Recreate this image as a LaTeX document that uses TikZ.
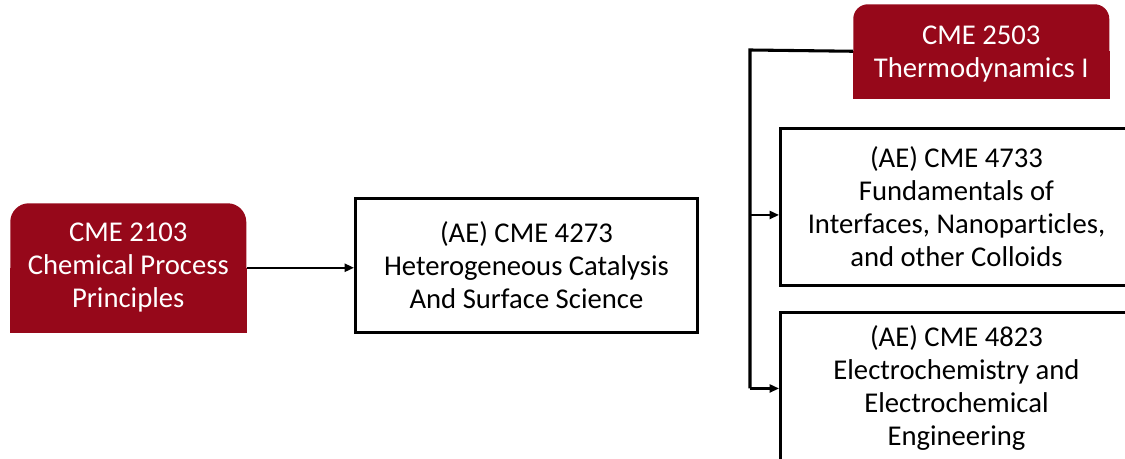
\documentclass[tikz,border=0pt]{standalone}
\usepackage{fontspec}
\setmainfont[Ligatures=NoCommon]{Carlito}
\usetikzlibrary{arrows.meta,positioning,backgrounds}
\definecolor{vred}{HTML}{96081A}
\tikzset{
  prereq/.style={fill=vred,text=white,rounded corners=14pt,align=center,inner sep=0pt,anchor=north west,font=\fontsize{21.5}{24.75}\selectfont},
  course/.style={draw=black,fill=white,line width=2.2pt,align=center,inner sep=0pt,anchor=north west,font=\fontsize{21.5}{24.75}\selectfont},
  arr/.style={-{Triangle[length=7pt,width=6pt]},line width=1.6pt,draw=black},
  link/.style={line width=2.3pt,draw=black},
}
\begin{document}
\begin{tikzpicture}[x=0.75pt,y=-0.75pt]
  \useasboundingbox (0,0) rectangle (1125,459);
  \clip (0,0) rectangle (1125,459);
  % --- prerequisites
  \node[prereq,minimum width=177pt,minimum height=96.75pt] (p2103) at (10,203) {CME 2103\\Chemical Process\\Principles};
  \node[prereq,rounded corners=11pt,minimum width=192pt,minimum height=70.5pt,text depth=-4pt] (p2503) at (853,4) {CME 2503\\Thermodynamics I};
  % --- courses
  \node[course,minimum width=256.5pt,minimum height=100.5pt] (c4273) at (354,197) {(AE) CME 4273\\Heterogeneous Catalysis\\And Surface Science};
  \node[course,minimum width=264pt,minimum height=117.75pt] (c4733) at (779,127) {(AE) CME 4733\\Fundamentals of\\Interfaces, Nanoparticles,\\and other Colloids};
  \node[course,minimum width=264pt,minimum height=114pt] (c4823) at (779,311) {(AE) CME 4823\\Electrochemistry and\\Electrochemical\\Engineering};
  % square bottom corners
  \begin{scope}[on background layer]
    \fill[vred] (p2103.west) rectangle (p2103.south east);
    \fill[vred] (p2503.west) rectangle (p2503.south east);
  \end{scope}
  % --- connectors
  \coordinate (bus) at (750,50);
  \draw[arr] (p2103.east) -- (p2103.east -| c4273.west);
  \draw[link] (p2503.west) -- (bus) -- (bus |- c4823.west);
  \draw[arr] ([yshift=-6pt]bus |- c4733.west) -- ([yshift=-6pt]c4733.west);
  \draw[arr] (bus |- c4823.west) -- (c4823.west);
\end{tikzpicture}
\end{document}
